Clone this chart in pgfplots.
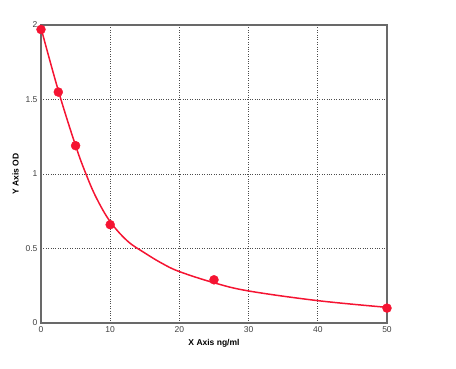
\documentclass[border=0pt]{standalone}
\usepackage{pgfplots}
\pgfplotsset{compat=1.18}
\usepackage{fontspec}
\setmainfont{Liberation Sans}
\definecolor{cred}{RGB}{245,20,50}
\definecolor{frame}{RGB}{105,105,105}
\begin{document}
\begin{tikzpicture}
\path[use as bounding box] (0,0) rectangle (456pt,369pt);
\begin{axis}[
  at={(41pt,46pt)}, anchor=south west,
  scale only axis, width=346pt, height=298pt,
  xmin=0, xmax=50, ymin=0, ymax=2,
  xtick={0,10,20,30,40,50}, ytick={0,0.5,1,1.5,2},
  yticklabels={0,0.5,1,1.5,2},
  major tick length=0pt,
  grid=major,
  major grid style={dotted, line width=0.8pt, black!70},
  axis line style={frame, line width=1.4pt},
  tick label style={font=\fontsize{8.5}{9}\selectfont, text=black!75},
  /pgf/number format/assume math mode=true,
  xlabel={\bfseries X Axis ng/ml},
  ylabel={\bfseries Y Axis OD},
  label style={font=\fontsize{8.5}{9}\selectfont\bfseries},
  xlabel style={yshift=0pt},
  ylabel style={yshift=0pt},
  clip=false,
]
\addplot[cred, line width=1.5pt, smooth, tension=0.6] coordinates {
(0,1.98) (2.5,1.56) (5,1.19) (6.5,1.0) (8,0.84) (10,0.68) (12.5,0.55) (15,0.47) (17.5,0.40) (20,0.345) (25,0.27) (30,0.215) (40,0.15) (50,0.105)
};
\addplot[only marks, mark=*, mark size=4.5pt, cred] coordinates {
(0,1.97) (2.5,1.55) (5,1.19) (10,0.66) (25,0.29) (50,0.10)
};
\end{axis}
\end{tikzpicture}
\end{document}
